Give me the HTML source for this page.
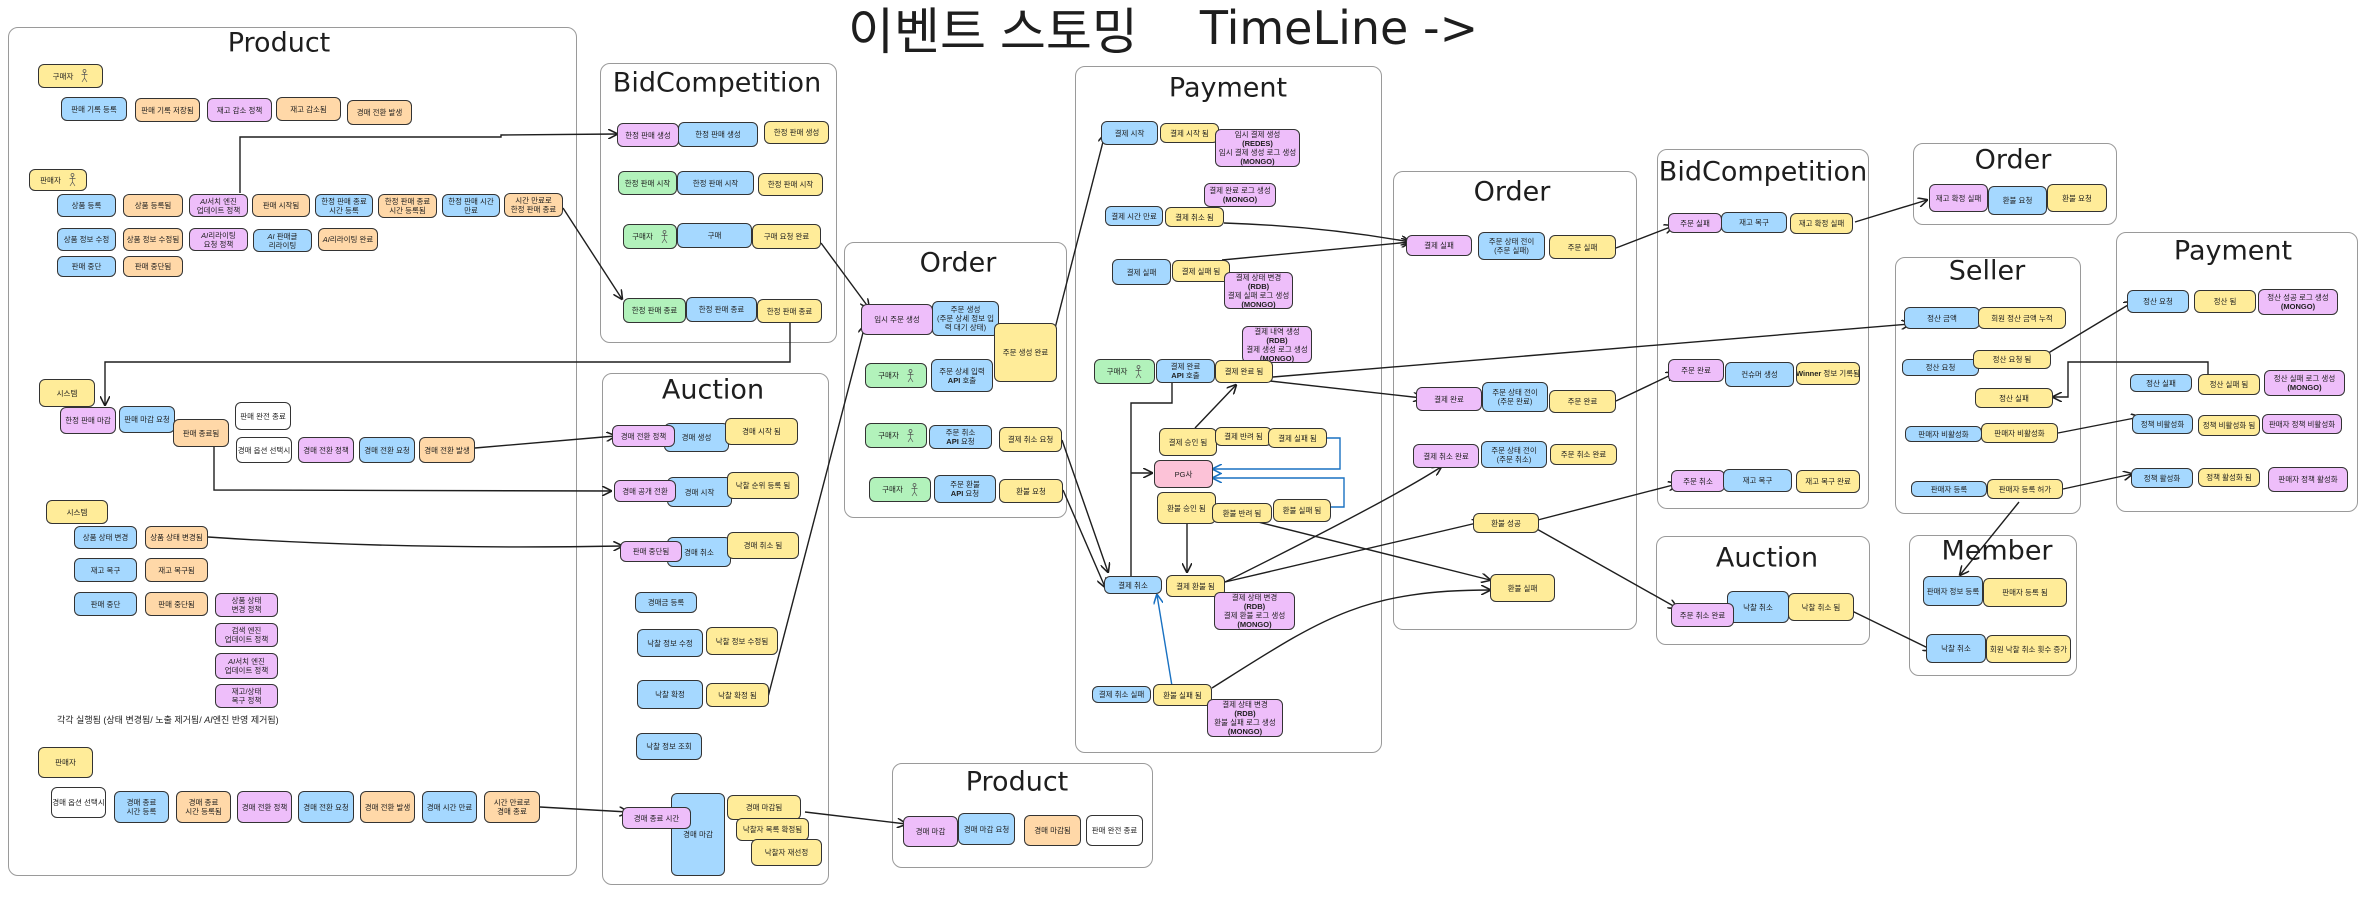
<!DOCTYPE html>
<html><head><meta charset="utf-8">
<style>
html,body{margin:0;padding:0;background:#fff;}
body{width:2380px;height:905px;position:relative;overflow:hidden;font-family:"Liberation Sans","Noto Sans CJK KR",sans-serif;color:#1e1e1e;}
.f{position:absolute;border:1.5px solid #9a9a9a;border-radius:10px;box-sizing:border-box;}
.t{position:absolute;transform:translate(-50%,-50%);font-size:27px;white-space:nowrap;font-family:"DejaVu Sans","Noto Sans CJK KR",sans-serif;}
.n{position:absolute;box-sizing:border-box;border:1.3px solid #333;border-radius:6px;display:flex;align-items:center;justify-content:center;text-align:center;font-size:7.5px;line-height:1.2;white-space:nowrap;overflow:hidden;}
.n>span{display:block}
.b{background:#a5d8ff}.y{background:#ffec99}.o{background:#ffd8a8}.p{background:#eebefa}.g{background:#b2f2bb}.w{background:#fff}.k{background:#fcc2d7}
.n svg{margin-left:8px;flex:none}
.txt{position:absolute;font-size:9px;white-space:nowrap}
</style></head><body>

<div style="position:absolute;left:848px;top:0;height:56px;display:flex;align-items:center;font-size:50px;white-space:nowrap;font-family:'Liberation Sans','Noto Sans CJK KR',sans-serif;"><span>이벤트 스토밍</span><span style="margin-left:62px;font-family:'DejaVu Sans',sans-serif;font-size:46px;">TimeLine -&gt;</span></div>

<div class="f" style="left:8px;top:27px;width:569px;height:849px"></div>
<div class="f" style="left:600px;top:63px;width:237px;height:280px"></div>
<div class="f" style="left:602px;top:373px;width:227px;height:512px"></div>
<div class="f" style="left:844px;top:242px;width:223px;height:276px"></div>
<div class="f" style="left:892px;top:763px;width:261px;height:105px"></div>
<div class="f" style="left:1075px;top:66px;width:307px;height:687px"></div>
<div class="f" style="left:1393px;top:171px;width:244px;height:459px"></div>
<div class="f" style="left:1657px;top:149px;width:212px;height:360px"></div>
<div class="f" style="left:1656px;top:536px;width:214px;height:109px"></div>
<div class="f" style="left:1913px;top:143px;width:204px;height:82px"></div>
<div class="f" style="left:1895px;top:257px;width:186px;height:257px"></div>
<div class="f" style="left:2116px;top:232px;width:242px;height:280px"></div>
<div class="f" style="left:1909px;top:535px;width:168px;height:141px"></div>

<div class="t" style="left:279px;top:43px">Product</div>
<div class="t" style="left:717px;top:83px">BidCompetition</div>
<div class="t" style="left:713px;top:390px">Auction</div>
<div class="t" style="left:958px;top:263px">Order</div>
<div class="t" style="left:1017px;top:782px">Product</div>
<div class="t" style="left:1228px;top:88px">Payment</div>
<div class="t" style="left:1512px;top:192px">Order</div>
<div class="t" style="left:1763px;top:172px">BidCompetition</div>
<div class="t" style="left:1767px;top:558px">Auction</div>
<div class="t" style="left:2013px;top:160px">Order</div>
<div class="t" style="left:1987px;top:271px">Seller</div>
<div class="t" style="left:2233px;top:251px">Payment</div>
<div class="t" style="left:1997px;top:551px">Member</div>

<svg width="2380" height="905" style="position:absolute;left:0;top:0" fill="none">
<defs>
<marker id="a" viewBox="0 0 10 10" refX="9" refY="5" markerWidth="7" markerHeight="7" orient="auto-start-reverse"><path d="M0,0 L10,5 L0,10" fill="none" stroke="#1e1e1e" stroke-width="1.6"/></marker>
<marker id="ab" viewBox="0 0 10 10" refX="9" refY="5" markerWidth="7" markerHeight="7" orient="auto-start-reverse"><path d="M0,0 L10,5 L0,10" fill="none" stroke="#1971c2" stroke-width="1.6"/></marker>
</defs>
<g stroke="#1e1e1e" stroke-width="1.4" marker-end="url(#a)">
<path d="M240,193 V137 H501 V135 L617,134"/>
<path d="M563,208 L622,299"/>
<path d="M790,323 V362 H105 V405"/>
<path d="M475,448 L615,436"/>
<path d="M214,447 V490 L611,491"/>
<path d="M208,537 Q400,550 622,546"/>
<path d="M540,807 L628,812"/>
<path d="M821,243 L869,308"/>
<path d="M768,697 L865,325"/>
<path d="M1052,340 L1105,134"/>
<path d="M1062,440 L1108,572"/>
<path d="M1063,490 L1105,587"/>
<path d="M805,812 L906,824"/>
<path d="M1224,223 Q1320,226 1410,242"/>
<path d="M1222,260 L1410,242"/>
<path d="M1273,377 L1910,324"/>
<path d="M1270,381 L1422,398"/>
<path d="M1131,473 H1152"/>
<path d="M1195,428 L1236,385"/>
<path d="M1187,524 V572"/>
<path d="M1225,582 Q1390,500 1441,467"/>
<path d="M1225,582 L1481,522"/>
<path d="M1250,520 L1490,580"/>
<path d="M1212,688 C1320,620 1360,590 1490,590"/>
<path d="M1616,248 L1673,226"/>
<path d="M1616,401 L1675,373"/>
<path d="M1530,522 L1677,484"/>
<path d="M1535,528 L1677,608"/>
<path d="M1855,222 L1927,200"/>
<path d="M2045,355 L2133,302"/>
<path d="M2208,374 V362 H2068 V397 H2053"/>
<path d="M2058,433 L2140,417"/>
<path d="M2063,489 L2132,474"/>
<path d="M2019,502 L1960,575"/>
<path d="M1850,610 L1932,650"/>
</g>
<path d="M1172,383 V403 H1131 V576" stroke="#1e1e1e" stroke-width="1.4"/>
<g stroke="#1971c2" stroke-width="1.4" marker-end="url(#ab)">
<path d="M1327,438 H1340 V469 H1213"/>
<path d="M1331,507 H1344 V478 H1213"/>
<path d="M1172,686 L1157,595"/>
</g>
</svg>

<!-- Product -->
<div class="n y" style="left:38px;top:64px;width:65px;height:24px"><span>구매자</span><svg width="7" height="14" viewBox="0 0 7 14"><circle cx="3.5" cy="2" r="1.5" stroke="#555" stroke-width=".7" fill="none"/><path d="M3.5 3.5V9M.5 5.5H6.5M3.5 9L1 13M3.5 9L6 13" stroke="#555" stroke-width=".7" fill="none"/></svg></div>
<div class="n b" style="left:61px;top:97px;width:66px;height:24px"><span>판매 기록 등록</span></div>
<div class="n o" style="left:135px;top:98px;width:65px;height:24px"><span>판매 기록 저장됨</span></div>
<div class="n p" style="left:207px;top:98px;width:65px;height:24px"><span>재고 감소 정책</span></div>
<div class="n o" style="left:276px;top:97px;width:65px;height:24px"><span>재고 감소됨</span></div>
<div class="n o" style="left:347px;top:100px;width:65px;height:25px"><span>경매 전환 발생</span></div>

<div class="n y" style="left:29px;top:169px;width:58px;height:22px"><span>판매자</span><svg width="7" height="14" viewBox="0 0 7 14"><circle cx="3.5" cy="2" r="1.5" stroke="#555" stroke-width=".7" fill="none"/><path d="M3.5 3.5V9M.5 5.5H6.5M3.5 9L1 13M3.5 9L6 13" stroke="#555" stroke-width=".7" fill="none"/></svg></div>
<div class="n b" style="left:57px;top:194px;width:59px;height:23px"><span>상품 등록</span></div>
<div class="n o" style="left:123px;top:194px;width:60px;height:23px"><span>상품 등록됨</span></div>
<div class="n p" style="left:189px;top:194px;width:59px;height:23px"><span><i>AI</i>서치 엔진<br>업데이트 정책</span></div>
<div class="n o" style="left:252px;top:194px;width:58px;height:23px"><span>판매 시작됨</span></div>
<div class="n b" style="left:315px;top:194px;width:58px;height:23px"><span>한정 판매 종료<br>시간 등록</span></div>
<div class="n o" style="left:378px;top:194px;width:59px;height:24px"><span>한정 판매 종료<br>시간 등록됨</span></div>
<div class="n b" style="left:442px;top:194px;width:58px;height:23px"><span>한정 판매 시간<br>만료</span></div>
<div class="n o" style="left:504px;top:193px;width:59px;height:24px"><span>시간 만료로<br>한정 판매 종료</span></div>
<div class="n b" style="left:57px;top:228px;width:59px;height:23px"><span>상품 정보 수정</span></div>
<div class="n o" style="left:123px;top:228px;width:60px;height:23px"><span>상품 정보 수정됨</span></div>
<div class="n p" style="left:189px;top:228px;width:59px;height:23px"><span><i>AI</i>리라이팅<br>요청 정책</span></div>
<div class="n b" style="left:253px;top:229px;width:59px;height:23px"><span><i>AI</i> 판매글<br>리라이팅</span></div>
<div class="n o" style="left:318px;top:228px;width:60px;height:23px"><span><i>AI</i>리라이팅 완료</span></div>
<div class="n b" style="left:57px;top:256px;width:59px;height:21px"><span>판매 중단</span></div>
<div class="n o" style="left:123px;top:256px;width:60px;height:21px"><span>판매 중단됨</span></div>

<div class="n y" style="left:39px;top:379px;width:56px;height:28px"><span>시스템</span></div>
<div class="n p" style="left:60px;top:407px;width:56px;height:27px"><span>한정 판매 마감</span></div>
<div class="n b" style="left:119px;top:406px;width:56px;height:27px"><span>판매 마감 요청</span></div>
<div class="n o" style="left:173px;top:419px;width:56px;height:28px"><span>판매 종료됨</span></div>
<div class="n w" style="left:235px;top:402px;width:56px;height:28px"><span>판매 완전 종료</span></div>
<div class="n w" style="left:236px;top:437px;width:56px;height:26px"><span>경매 옵션 선택시</span></div>
<div class="n p" style="left:298px;top:437px;width:56px;height:26px"><span>경매 전환 정책</span></div>
<div class="n b" style="left:359px;top:437px;width:56px;height:26px"><span>경매 전환 요청</span></div>
<div class="n o" style="left:419px;top:437px;width:56px;height:26px"><span>경매 전환 발생</span></div>

<div class="n y" style="left:46px;top:500px;width:62px;height:24px"><span>시스템</span></div>
<div class="n b" style="left:74px;top:526px;width:63px;height:23px"><span>상품 상태 변경</span></div>
<div class="n o" style="left:145px;top:526px;width:63px;height:23px"><span>상품 상태 변경됨</span></div>
<div class="n b" style="left:74px;top:558px;width:63px;height:24px"><span>재고 복구</span></div>
<div class="n o" style="left:145px;top:558px;width:63px;height:24px"><span>재고 복구됨</span></div>
<div class="n b" style="left:74px;top:592px;width:63px;height:24px"><span>판매 중단</span></div>
<div class="n o" style="left:145px;top:592px;width:63px;height:24px"><span>판매 중단됨</span></div>
<div class="n p" style="left:215px;top:593px;width:63px;height:24px"><span>상품 상태<br>변경 정책</span></div>
<div class="n p" style="left:215px;top:623px;width:63px;height:24px"><span>검색 엔진<br>업데이트 정책</span></div>
<div class="n p" style="left:215px;top:653px;width:63px;height:26px"><span><i>AI</i>서치 엔진<br>업데이트 정책</span></div>
<div class="n p" style="left:215px;top:684px;width:63px;height:24px"><span>재고/상태<br>복구 정책</span></div>
<div class="txt" style="left:57px;top:713px">각각 실행됨 (상태 변경됨/ 노출 제거됨/ <i>AI</i>엔진 반영 제거됨)</div>

<div class="n y" style="left:38px;top:747px;width:55px;height:31px"><span>판매자</span></div>
<div class="n w" style="left:51px;top:787px;width:55px;height:31px"><span>경매 옵션 선택시</span></div>
<div class="n b" style="left:114px;top:791px;width:55px;height:32px"><span>경매 종료<br>시간 등록</span></div>
<div class="n o" style="left:176px;top:791px;width:55px;height:32px"><span>경매 종료<br>시간 등록됨</span></div>
<div class="n p" style="left:237px;top:791px;width:55px;height:32px"><span>경매 전환 정책</span></div>
<div class="n b" style="left:298px;top:791px;width:56px;height:32px"><span>경매 전환 요청</span></div>
<div class="n o" style="left:360px;top:791px;width:55px;height:32px"><span>경매 전환 발생</span></div>
<div class="n b" style="left:422px;top:791px;width:55px;height:32px"><span>경매 시간 만료</span></div>
<div class="n o" style="left:484px;top:791px;width:56px;height:32px"><span>시간 만료로<br>경매 종료</span></div>

<!-- BidCompetition -->
<div class="n b" style="left:678px;top:122px;width:80px;height:25px"><span>한정 판매 생성</span></div>
<div class="n p" style="left:617px;top:123px;width:62px;height:24px"><span>한정 판매 생성</span></div>
<div class="n y" style="left:764px;top:121px;width:65px;height:23px"><span>한정 판매 생성</span></div>
<div class="n g" style="left:618px;top:171px;width:59px;height:24px"><span>한정 판매 시작</span></div>
<div class="n b" style="left:677px;top:171px;width:77px;height:24px"><span>한정 판매 시작</span></div>
<div class="n y" style="left:758px;top:173px;width:65px;height:23px"><span>한정 판매 시작</span></div>
<div class="n g" style="left:623px;top:224px;width:54px;height:25px"><span>구매자</span><svg width="7" height="14" viewBox="0 0 7 14"><circle cx="3.5" cy="2" r="1.5" stroke="#555" stroke-width=".7" fill="none"/><path d="M3.5 3.5V9M.5 5.5H6.5M3.5 9L1 13M3.5 9L6 13" stroke="#555" stroke-width=".7" fill="none"/></svg></div>
<div class="n b" style="left:677px;top:223px;width:75px;height:25px"><span>구매</span></div>
<div class="n y" style="left:752px;top:224px;width:69px;height:25px"><span>구매 요청 완료</span></div>
<div class="n g" style="left:623px;top:298px;width:63px;height:25px"><span>한정 판매 종료</span></div>
<div class="n b" style="left:686px;top:297px;width:71px;height:25px"><span>한정 판매 종료</span></div>
<div class="n y" style="left:757px;top:299px;width:65px;height:24px"><span>한정 판매 종료</span></div>

<!-- Auction -->
<div class="n b" style="left:664px;top:423px;width:65px;height:29px"><span>경매 생성</span></div>
<div class="n y" style="left:725px;top:418px;width:73px;height:27px"><span>경매 시작 됨</span></div>
<div class="n p" style="left:612px;top:425px;width:63px;height:22px"><span>경매 전환 정책</span></div>
<div class="n b" style="left:667px;top:477px;width:65px;height:30px"><span>경매 시작</span></div>
<div class="n y" style="left:727px;top:472px;width:72px;height:27px"><span>낙찰 순위 등록 됨</span></div>
<div class="n p" style="left:614px;top:480px;width:62px;height:22px"><span>경매 공개 전환</span></div>
<div class="n b" style="left:667px;top:537px;width:64px;height:30px"><span>경매 취소</span></div>
<div class="n y" style="left:727px;top:532px;width:72px;height:27px"><span>경매 취소 됨</span></div>
<div class="n p" style="left:620px;top:541px;width:62px;height:21px"><span>판매 중단됨</span></div>
<div class="n b" style="left:635px;top:592px;width:62px;height:21px"><span>경매금 등록</span></div>
<div class="n b" style="left:637px;top:629px;width:66px;height:28px"><span>낙찰 정보 수정</span></div>
<div class="n y" style="left:706px;top:627px;width:72px;height:28px"><span>낙찰 정보 수정됨</span></div>
<div class="n b" style="left:637px;top:680px;width:66px;height:29px"><span>낙찰 확정</span></div>
<div class="n y" style="left:706px;top:683px;width:63px;height:24px"><span>낙찰 확정 됨</span></div>
<div class="n b" style="left:636px;top:733px;width:66px;height:27px"><span>낙찰 정보 조회</span></div>
<div class="n b" style="left:671px;top:793px;width:54px;height:83px"><span>경매 마감</span></div>
<div class="n y" style="left:727px;top:795px;width:74px;height:25px"><span>경매 마감됨</span></div>
<div class="n y" style="left:736px;top:818px;width:73px;height:23px"><span>낙찰자 목록 확정됨</span></div>
<div class="n y" style="left:751px;top:839px;width:71px;height:27px"><span>낙찰자 재선정</span></div>
<div class="n p" style="left:622px;top:807px;width:69px;height:22px"><span>경매 종료 시간</span></div>

<!-- Order -->
<div class="n p" style="left:861px;top:304px;width:72px;height:31px"><span>임시 주문 생성</span></div>
<div class="n b" style="left:932px;top:301px;width:67px;height:35px"><span>주문 생성<br>(주문 상세 정보 입<br>력 대기 상태)</span></div>
<div class="n y" style="left:994px;top:323px;width:63px;height:59px"><span>주문 생성 완료</span></div>
<div class="n g" style="left:865px;top:363px;width:62px;height:25px"><span>구매자</span><svg width="7" height="14" viewBox="0 0 7 14"><circle cx="3.5" cy="2" r="1.5" stroke="#555" stroke-width=".7" fill="none"/><path d="M3.5 3.5V9M.5 5.5H6.5M3.5 9L1 13M3.5 9L6 13" stroke="#555" stroke-width=".7" fill="none"/></svg></div>
<div class="n b" style="left:931px;top:359px;width:62px;height:33px"><span>주문 상세 입력<br><b>API</b> 호출</span></div>
<div class="n g" style="left:865px;top:423px;width:62px;height:25px"><span>구매자</span><svg width="7" height="14" viewBox="0 0 7 14"><circle cx="3.5" cy="2" r="1.5" stroke="#555" stroke-width=".7" fill="none"/><path d="M3.5 3.5V9M.5 5.5H6.5M3.5 9L1 13M3.5 9L6 13" stroke="#555" stroke-width=".7" fill="none"/></svg></div>
<div class="n b" style="left:929px;top:425px;width:63px;height:24px"><span>주문 취소<br><b>API</b> 요청</span></div>
<div class="n y" style="left:999px;top:427px;width:63px;height:25px"><span>결제 취소 요청</span></div>
<div class="n g" style="left:869px;top:477px;width:62px;height:25px"><span>구매자</span><svg width="7" height="14" viewBox="0 0 7 14"><circle cx="3.5" cy="2" r="1.5" stroke="#555" stroke-width=".7" fill="none"/><path d="M3.5 3.5V9M.5 5.5H6.5M3.5 9L1 13M3.5 9L6 13" stroke="#555" stroke-width=".7" fill="none"/></svg></div>
<div class="n b" style="left:934px;top:475px;width:62px;height:28px"><span>주문 환불<br><b>API</b> 요청</span></div>
<div class="n y" style="left:999px;top:479px;width:64px;height:24px"><span>환불 요청</span></div>

<!-- Product 2 -->
<div class="n p" style="left:903px;top:816px;width:55px;height:31px"><span>경매 마감</span></div>
<div class="n b" style="left:958px;top:813px;width:57px;height:32px"><span>경매 마감 요청</span></div>
<div class="n o" style="left:1024px;top:815px;width:57px;height:31px"><span>경매 마감됨</span></div>
<div class="n w" style="left:1086px;top:815px;width:57px;height:31px"><span>판매 완전 종료</span></div>

<!-- Payment -->
<div class="n b" style="left:1101px;top:121px;width:57px;height:24px"><span>결제 시작</span></div>
<div class="n y" style="left:1160px;top:123px;width:59px;height:20px"><span>결제 시작 됨</span></div>
<div class="n p" style="left:1215px;top:129px;width:85px;height:38px"><span>임시 결제 생성<br><b>(REDES)</b><br>임시 결제 생성 로그 생성<br><b>(MONGO)</b></span></div>
<div class="n p" style="left:1204px;top:183px;width:72px;height:24px"><span>결제 완료 로그 생성<br><b>(MONGO)</b></span></div>
<div class="n b" style="left:1105px;top:206px;width:58px;height:20px"><span>결제 시간 만료</span></div>
<div class="n y" style="left:1165px;top:207px;width:59px;height:20px"><span>결제 취소 됨</span></div>
<div class="n b" style="left:1112px;top:259px;width:59px;height:26px"><span>결제 실패</span></div>
<div class="n y" style="left:1172px;top:260px;width:58px;height:22px"><span>결제 실패 됨</span></div>
<div class="n p" style="left:1224px;top:272px;width:69px;height:37px"><span>결제 상태 변경<br><b>(RDB)</b><br>결제 실패 로그 생성<br><b>(MONGO)</b></span></div>
<div class="n p" style="left:1242px;top:326px;width:70px;height:37px"><span>결제 내역 생성<br><b>(RDB)</b><br>결제 생성 로그 생성<br><b>(MONGO)</b></span></div>
<div class="n g" style="left:1094px;top:359px;width:61px;height:25px"><span>구매자</span><svg width="7" height="14" viewBox="0 0 7 14"><circle cx="3.5" cy="2" r="1.5" stroke="#555" stroke-width=".7" fill="none"/><path d="M3.5 3.5V9M.5 5.5H6.5M3.5 9L1 13M3.5 9L6 13" stroke="#555" stroke-width=".7" fill="none"/></svg></div>
<div class="n b" style="left:1156px;top:359px;width:59px;height:24px"><span>결제 완료<br><b>API</b> 호출</span></div>
<div class="n y" style="left:1215px;top:360px;width:58px;height:23px"><span>결제 완료 됨</span></div>
<div class="n y" style="left:1159px;top:428px;width:58px;height:28px"><span>결제 승인 됨</span></div>
<div class="n y" style="left:1215px;top:427px;width:57px;height:19px"><span>결제 반려 됨</span></div>
<div class="n y" style="left:1268px;top:428px;width:59px;height:20px"><span>결제 실패 됨</span></div>
<div class="n k" style="left:1154px;top:460px;width:59px;height:28px"><span>PG사</span></div>
<div class="n y" style="left:1157px;top:492px;width:59px;height:32px"><span>환불 승인 됨</span></div>
<div class="n y" style="left:1212px;top:503px;width:60px;height:20px"><span>환불 반려 됨</span></div>
<div class="n y" style="left:1273px;top:499px;width:58px;height:23px"><span>환불 실패 됨</span></div>
<div class="n b" style="left:1104px;top:576px;width:58px;height:18px"><span>결제 취소</span></div>
<div class="n y" style="left:1166px;top:575px;width:59px;height:22px"><span>결제 환불 됨</span></div>
<div class="n p" style="left:1214px;top:592px;width:81px;height:38px"><span>결제 상태 변경<br><b>(RDB)</b><br>결제 환불 로그 생성<br><b>(MONGO)</b></span></div>
<div class="n b" style="left:1092px;top:686px;width:59px;height:17px"><span>결제 취소 실패</span></div>
<div class="n y" style="left:1153px;top:684px;width:59px;height:22px"><span>환불 실패 됨</span></div>
<div class="n p" style="left:1207px;top:699px;width:76px;height:38px"><span>결제 상태 변경<br><b>(RDB)</b><br>환불 실패 로그 생성<br><b>(MONGO)</b></span></div>

<!-- Order 2 -->
<div class="n p" style="left:1406px;top:235px;width:66px;height:21px"><span>결제 실패</span></div>
<div class="n b" style="left:1478px;top:232px;width:67px;height:28px"><span>주문 상태 전이<br>(주문 실패)</span></div>
<div class="n y" style="left:1549px;top:235px;width:67px;height:24px"><span>주문 실패</span></div>
<div class="n p" style="left:1416px;top:387px;width:66px;height:24px"><span>결제 완료</span></div>
<div class="n b" style="left:1482px;top:382px;width:66px;height:30px"><span>주문 상태 전이<br>(주문 완료)</span></div>
<div class="n y" style="left:1549px;top:390px;width:67px;height:23px"><span>주문 완료</span></div>
<div class="n p" style="left:1413px;top:444px;width:66px;height:24px"><span>결제 취소 완료</span></div>
<div class="n b" style="left:1481px;top:441px;width:66px;height:27px"><span>주문 상태 전이<br>(주문 취소)</span></div>
<div class="n y" style="left:1550px;top:444px;width:67px;height:21px"><span>주문 취소 완료</span></div>
<div class="n y" style="left:1473px;top:513px;width:66px;height:20px"><span>환불 성공</span></div>
<div class="n y" style="left:1490px;top:574px;width:65px;height:28px"><span>환불 실패</span></div>

<!-- BidCompetition 2 -->
<div class="n p" style="left:1668px;top:213px;width:54px;height:20px"><span>주문 실패</span></div>
<div class="n b" style="left:1721px;top:212px;width:66px;height:21px"><span>재고 복구</span></div>
<div class="n y" style="left:1790px;top:213px;width:63px;height:21px"><span>재고 확정 실패</span></div>
<div class="n p" style="left:1668px;top:359px;width:56px;height:23px"><span>주문 완료</span></div>
<div class="n b" style="left:1725px;top:362px;width:69px;height:25px"><span>컨슈머 생성</span></div>
<div class="n y" style="left:1796px;top:362px;width:64px;height:23px"><span><b>Winner</b> 정보 기록됨</span></div>
<div class="n p" style="left:1671px;top:470px;width:54px;height:22px"><span>주문 취소</span></div>
<div class="n b" style="left:1723px;top:469px;width:69px;height:23px"><span>재고 복구</span></div>
<div class="n y" style="left:1796px;top:470px;width:64px;height:23px"><span>재고 복구 완료</span></div>

<!-- Auction 2 -->
<div class="n b" style="left:1727px;top:591px;width:62px;height:32px"><span>낙찰 취소</span></div>
<div class="n p" style="left:1671px;top:603px;width:63px;height:24px"><span>주문 취소 완료</span></div>
<div class="n y" style="left:1788px;top:593px;width:66px;height:28px"><span>낙찰 취소 됨</span></div>

<!-- Order 3 -->
<div class="n b" style="left:1988px;top:186px;width:59px;height:29px"><span>환불 요청</span></div>
<div class="n p" style="left:1929px;top:184px;width:59px;height:28px"><span>재고 확정 실패</span></div>
<div class="n y" style="left:2047px;top:184px;width:60px;height:28px"><span>환불 요청</span></div>

<!-- Seller -->
<div class="n b" style="left:1904px;top:307px;width:76px;height:22px"><span>정산 금액</span></div>
<div class="n y" style="left:1978px;top:307px;width:88px;height:22px"><span>회원 정산 금액 누적</span></div>
<div class="n b" style="left:1902px;top:359px;width:77px;height:17px"><span>정산 요청</span></div>
<div class="n y" style="left:1973px;top:350px;width:78px;height:19px"><span>정산 요청 됨</span></div>
<div class="n y" style="left:1975px;top:388px;width:78px;height:20px"><span>정산 실패</span></div>
<div class="n b" style="left:1905px;top:426px;width:77px;height:16px"><span>판매자 비활성화</span></div>
<div class="n y" style="left:1981px;top:423px;width:77px;height:20px"><span>판매자 비활성화</span></div>
<div class="n b" style="left:1911px;top:481px;width:76px;height:16px"><span>판매자 등록</span></div>
<div class="n y" style="left:1987px;top:479px;width:76px;height:20px"><span>판매자 등록 허가</span></div>

<!-- Payment 2 -->
<div class="n b" style="left:2127px;top:290px;width:62px;height:23px"><span>정산 요청</span></div>
<div class="n y" style="left:2194px;top:290px;width:62px;height:23px"><span>정산 됨</span></div>
<div class="n p" style="left:2258px;top:289px;width:80px;height:26px"><span>정산 성공 로그 생성<br><b>(MONGO)</b></span></div>
<div class="n b" style="left:2130px;top:374px;width:62px;height:18px"><span>정산 실패</span></div>
<div class="n y" style="left:2198px;top:374px;width:62px;height:21px"><span>정산 실패 됨</span></div>
<div class="n p" style="left:2264px;top:370px;width:81px;height:26px"><span>정산 실패 로그 생성<br><b>(MONGO)</b></span></div>
<div class="n b" style="left:2132px;top:414px;width:61px;height:20px"><span>정책 비활성화</span></div>
<div class="n y" style="left:2198px;top:415px;width:62px;height:21px"><span>정책 비활성화 됨</span></div>
<div class="n p" style="left:2262px;top:414px;width:80px;height:20px"><span>판매자 정책 비활성화</span></div>
<div class="n b" style="left:2131px;top:468px;width:62px;height:20px"><span>정책 활성화</span></div>
<div class="n y" style="left:2198px;top:468px;width:62px;height:19px"><span>정책 활성화 됨</span></div>
<div class="n p" style="left:2268px;top:467px;width:80px;height:25px"><span>판매자 정책 활성화</span></div>

<!-- Member -->
<div class="n b" style="left:1923px;top:576px;width:60px;height:30px"><span>판매자 정보 등록</span></div>
<div class="n y" style="left:1983px;top:578px;width:84px;height:29px"><span>판매자 등록 됨</span></div>
<div class="n b" style="left:1926px;top:634px;width:60px;height:29px"><span>낙찰 취소</span></div>
<div class="n y" style="left:1986px;top:635px;width:85px;height:28px"><span>회원 낙찰 취소 횟수 증가</span></div>

</body></html>
